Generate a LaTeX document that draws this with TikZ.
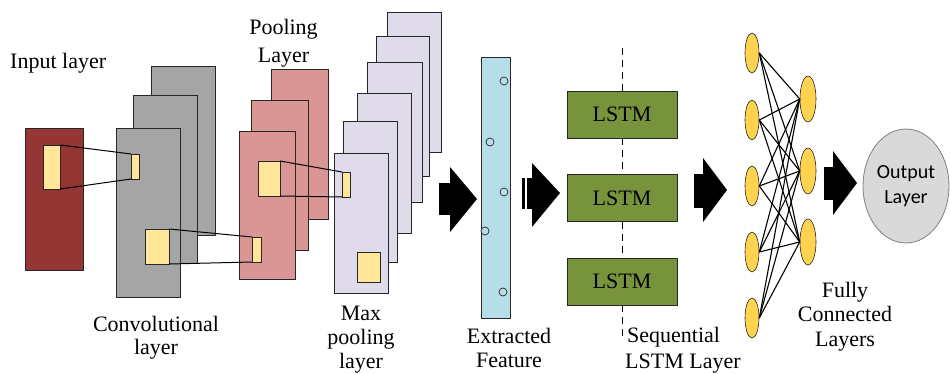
\documentclass[tikz,border=0pt]{standalone}
\usepackage{fontspec}
\setmainfont{Liberation Serif}
\newfontfamily\outfont{Carlito}
\usetikzlibrary{shapes.geometric}
\definecolor{inputred}{HTML}{943634}
\definecolor{convgray}{HTML}{A5A5A5}
\definecolor{poolpink}{HTML}{D99694}
\definecolor{maxlav}{HTML}{DFDBEA}
\definecolor{featblue}{HTML}{B7DEE8}
\definecolor{lstmgreen}{HTML}{77933C}
\definecolor{patchyellow}{HTML}{FFE699}
\definecolor{fcyellow}{HTML}{FFD350}
\definecolor{outgray}{HTML}{D9D9D9}
\definecolor{edgedark}{HTML}{262626}
\begin{document}
\begin{tikzpicture}[x=1pt,y=-1pt,
  layerbox/.style={draw=edgedark, line width=0.8pt},
  patch/.style={draw=edgedark, line width=0.8pt, fill=patchyellow, inner sep=0pt, outer sep=0pt},
  link/.style={draw=black, line width=1pt},
  lstmbox/.style={draw=edgedark, line width=0.8pt, fill=lstmgreen, minimum width=110pt, minimum height=47pt, inner sep=0pt, font=\fontsize{22}{24}\selectfont},
  fcnode/.style={ellipse, draw=edgedark, line width=0.6pt, fill=fcyellow, inner sep=0pt},
  fcedge/.style={draw=black, line width=1.1pt},
  label/.style={font=\fontsize{22}{25}\selectfont, inner sep=0pt, align=center},
  bigarrow/.style={fill=black, draw=none},
  featdot/.style={draw=edgedark, line width=0.7pt, fill=featblue}]
\useasboundingbox (0,0) rectangle (950,374);
\fill[white] (0,0) rectangle (950,374);

% input layer
\draw[layerbox, fill=inputred] (25,128) rectangle (83,270);
% convolutional layers
\draw[layerbox, fill=convgray] (151,66) rectangle (215,235);
\draw[layerbox, fill=convgray] (133,95) rectangle (197,263);
\draw[layerbox, fill=convgray] (116,128) rectangle (180,297);
% pooling layers
\draw[layerbox, fill=poolpink] (271,69) rectangle (328,219);
\draw[layerbox, fill=poolpink] (251,100) rectangle (308,250);
\draw[layerbox, fill=poolpink] (239,131) rectangle (295,279);
% max pooling layers
\draw[layerbox, fill=maxlav] (387,12) rectangle (441,152);
\draw[layerbox, fill=maxlav] (376,36) rectangle (429,176);
\draw[layerbox, fill=maxlav] (367,62) rectangle (422,202);
\draw[layerbox, fill=maxlav] (357,93) rectangle (411,233);
\draw[layerbox, fill=maxlav] (343,121) rectangle (397,262);
\draw[layerbox, fill=maxlav] (334,153) rectangle (388,293);

% patches
\node[patch, minimum width=17pt, minimum height=44pt] (p1) at (51.5,167) {};
\node[patch, minimum width=8pt, minimum height=25pt] (p2) at (135,166.5) {};
\node[patch, minimum width=24pt, minimum height=35pt] (p3) at (157,246.5) {};
\node[patch, minimum width=9pt, minimum height=25pt] (p4) at (256.5,249.5) {};
\node[patch, minimum width=22pt, minimum height=35pt] (p5) at (269,178.5) {};
\node[patch, minimum width=8pt, minimum height=25pt] (p6) at (346,184.5) {};
\node[patch, minimum width=23pt, minimum height=30pt] (p7) at (368.5,267) {};
\draw[link] (p1.north east) -- (p2.north west);
\draw[link] (p1.south east) -- (p2.south west);
\draw[link] (p3.north east) -- (p4.north west);
\draw[link] (p3.south east) -- (p4.south west);
\draw[link] (p5.north east) -- (p6.north west);
\draw[link] (p5.south east) -- (p6.south west);

% arrow 1
\fill[bigarrow] (439,183) rectangle (450,215);
\fill[bigarrow] (450,167) -- (477,199) -- (450,232) -- cycle;
% extracted feature
\draw[layerbox, fill=featblue] (481,57) rectangle (510,318);
\foreach \cx/\cy in {504/81, 490/142, 504/192, 485/231, 503/292}
  \draw[featdot] (\cx,\cy) circle (4pt);
% arrow 2
\fill[bigarrow] (522,178) rectangle (524.5,209);
\fill[bigarrow] (526.5,178) rectangle (532,209);
\fill[bigarrow] (532,163) -- (560,193) -- (532,227) -- cycle;

% LSTM
\coordinate (dtop) at (622,48);
\coordinate (dbot) at (622,337);
\node[lstmbox] (l1) at (622,114.5) {LSTM};
\node[lstmbox] (l2) at (622,198) {LSTM};
\node[lstmbox] (l3) at (622,281.5) {LSTM};
\draw[dashed, dash pattern=on 7pt off 5pt, line width=0.8pt] (dtop) -- (l1.north);
\draw[dashed, dash pattern=on 7pt off 5pt, line width=0.8pt] (l1.south) -- (l2.north);
\draw[dashed, dash pattern=on 7pt off 5pt, line width=0.8pt] (l2.south) -- (l3.north);
\draw[dashed, dash pattern=on 7pt off 5pt, line width=0.8pt] (l3.south) -- (dbot);

% arrow 3
\fill[bigarrow] (694,174) rectangle (703,208);
\fill[bigarrow] (703,158) -- (727,190) -- (703,222) -- cycle;

% fully connected
\foreach \i/\yy in {1/53, 2/120, 3/186, 4/252, 5/318}
  \node[fcnode, minimum width=14pt, minimum height=40pt] (a\i) at (752,\yy) {};
\foreach \j/\yy in {1/99, 2/171, 3/242}
  \node[fcnode, minimum width=16pt, minimum height=46pt] (b\j) at (808,\yy) {};
\foreach \i in {1,...,5}
  \foreach \j in {1,2,3}
    \draw[fcedge] (a\i.east) -- (b\j.west);

% arrow 4
\fill[bigarrow] (824,167) rectangle (833,200);
\fill[bigarrow] (833,151) -- (857,183) -- (833,215) -- cycle;

% output
\node[ellipse, draw=gray, line width=0.8pt, fill=outgray, minimum width=86pt, minimum height=114pt, inner sep=0pt, align=center, font=\outfont\fontsize{20}{25}\selectfont] (out) at (906,186) {Output\\Layer};

% labels (anchor=base is the baseline of the last line)
\node[label, anchor=base west] (tin) at (10,69) {Input layer};
\node[label, anchor=base, font=\fontsize{22}{28}\selectfont] (tpool) at (283.5,63) {Pooling\\Layer};
\node[label, anchor=base, font=\fontsize{22}{23}\selectfont] (tconv) at (156,354) {Convolutional\\layer};
\node[label, anchor=base, font=\fontsize{22}{24}\selectfont] (tmax) at (361,368) {Max\\pooling\\layer};
\node[label, anchor=base, font=\fontsize{22}{24}\selectfont] (tfeat) at (509,367) {Extracted\\Feature};
\node[label, anchor=base west, align=left, font=\fontsize{22}{26}\selectfont] (tseq) at (625,368) {\hspace*{2pt}Sequential\\LSTM Layer};
\node[label, anchor=base, font=\fontsize{22}{24.5}\selectfont] (tfc) at (845,346) {Fully\\Connected\\Layers};
\end{tikzpicture}
\end{document}
